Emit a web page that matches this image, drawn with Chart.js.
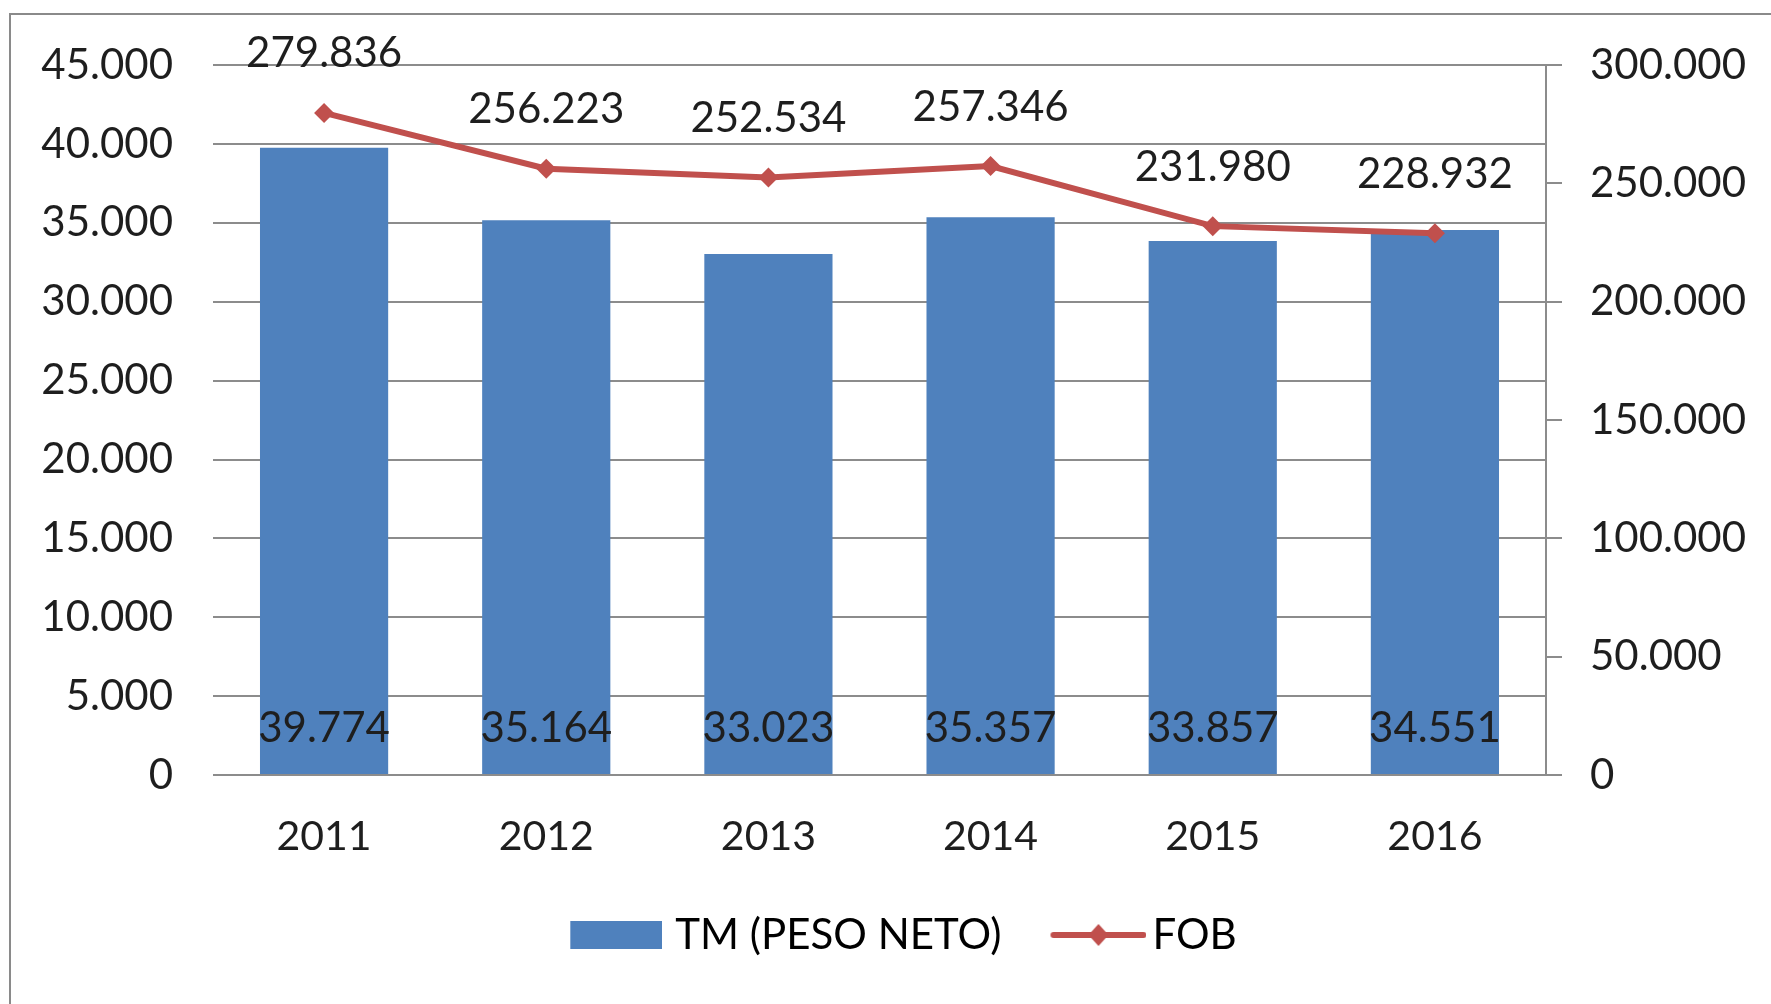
<!DOCTYPE html>
<html>
<head>
<meta charset="utf-8">
<script src="https://cdn.jsdelivr.net/npm/chart.js@4.4.0/dist/chart.umd.min.js"></script>
<style>
  body { margin: 0; background: #fff; overflow: hidden; }
  #wrap { position: relative; width: 1771px; height: 1004px; }
  #frame { position: absolute; left: 9px; top: 13px; width: 1900px; height: 1100px;
           border: 2px solid #8a8a8a; box-sizing: border-box; }
  canvas { position: absolute; left: 0; top: 0; }
</style>
</head>
<body>
<div id="wrap">
  <div id="frame"></div>
  <canvas id="chart-area" width="1771" height="1004"></canvas>
</div>
<script>
'use strict';

// data
var years = ['2011', '2012', '2013', '2014', '2015', '2016'];
var tmValues = [39774, 35164, 33023, 35357, 33857, 34551];
var fobValues = [279836, 256223, 252534, 257346, 231980, 228932];
var seriesNames = ['TM (PESO NETO)', 'FOB'];

var blue = '#4F81BD';
var red = '#C0504D';
var gridGrey = '#8c8c8c';
var textColour = '#1e1e1e';

// 45000 -> "45.000"
function fmt(v) {
  return String(Math.round(v)).replace(/\B(?=(\d{3})+(?!\d))/g, '.');
}

// legend symbols drawn into little canvases (legend box width is 120)
function makeBarIcon() {
  var c = document.createElement('canvas');
  c.width = 136; c.height = 30;
  var g = c.getContext('2d');
  g.fillStyle = blue;
  g.fillRect(44, 1, 92, 28);
  return c;
}
function makeLineIcon() {
  var c = document.createElement('canvas');
  c.width = 150; c.height = 30;
  var g = c.getContext('2d');
  g.strokeStyle = red;
  g.lineWidth = 6;
  g.lineCap = 'round';
  g.beginPath(); g.moveTo(57, 15); g.lineTo(147, 15); g.stroke();
  g.fillStyle = red;
  g.beginPath();
  g.moveTo(102, 4); g.lineTo(112, 15); g.lineTo(102, 26); g.lineTo(92, 15);
  g.closePath(); g.fill();
  return c;
}

// values written on the marks
var valueLabels = {
  id: 'valueLabels',
  afterDatasetsDraw: function(chart) {
    var ctx = chart.ctx;
    ctx.save();
    ctx.font = '42px Lato';
    ctx.fillStyle = textColour;
    ctx.textAlign = 'center';
    ctx.textBaseline = 'middle';
    chart.getDatasetMeta(1).data.forEach(function(bar, i) {
      ctx.fillText(fmt(tmValues[i]), bar.x, bar.base - 46);
    });
    chart.getDatasetMeta(0).data.forEach(function(pt, i) {
      ctx.fillText(fmt(fobValues[i]), pt.x, pt.y - 59);
    });
    ctx.restore();
  }
};

Chart.defaults.font.family = 'Lato';
Chart.defaults.font.size = 42;
Chart.defaults.color = textColour;

var config = {
  data: {
    labels: years,
    datasets: [{
      type: 'line',
      label: seriesNames[1],
      data: fobValues,
      yAxisID: 'y1',
      borderColor: red,
      backgroundColor: red,
      borderWidth: 6,
      tension: 0,
      pointStyle: 'rectRot',
      pointRadius: 10,
      pointBorderWidth: 0,
      pointBackgroundColor: red
    }, {
      type: 'bar',
      label: seriesNames[0],
      data: tmValues,
      yAxisID: 'y',
      backgroundColor: blue,
      categoryPercentage: 1,
      barPercentage: 0.577
    }]
  },
  options: {
    responsive: false,
    animation: false,
    layout: { padding: { top: 64, left: 0, right: 0, bottom: 38 } },
    plugins: {
      tooltip: { enabled: false },
      legend: {
        position: 'bottom',
        labels: {
          usePointStyle: true,
          pointStyleWidth: 120,
          padding: 10,
          color: textColour,
          font: { size: 42 },
          generateLabels: function() {
            return [
              { text: seriesNames[0], pointStyle: makeBarIcon(), datasetIndex: 1 },
              { text: seriesNames[1], pointStyle: makeLineIcon(), datasetIndex: 0 }
            ];
          }
        }
      }
    },
    scales: {
      x: {
        grid: { display: false, drawTicks: false },
        border: { display: false },
        ticks: { padding: 37, font: { size: 41 } },
        afterFit: function(s) { s.height = 129; }
      },
      y: {
        position: 'left',
        min: 0, max: 45000,
        ticks: { stepSize: 5000, padding: 40, callback: function(v) { return fmt(v); } },
        grid: { color: gridGrey, lineWidth: 2, drawTicks: false },
        border: { display: false },
        afterFit: function(s) { s.width = 213; }
      },
      y1: {
        position: 'right',
        min: 0, max: 300000,
        ticks: { stepSize: 50000, padding: 28, callback: function(v) { return fmt(v); } },
        grid: { drawOnChartArea: false, color: gridGrey, lineWidth: 2, tickLength: 16 },
        border: { display: true, color: gridGrey, width: 2 },
        afterFit: function(s) { s.width = 225; }
      }
    }
  },
  plugins: [valueLabels]
};

var ctx = document.getElementById('chart-area').getContext('2d');
window.myChart = new Chart(ctx, config);
</script>
</body>
</html>
